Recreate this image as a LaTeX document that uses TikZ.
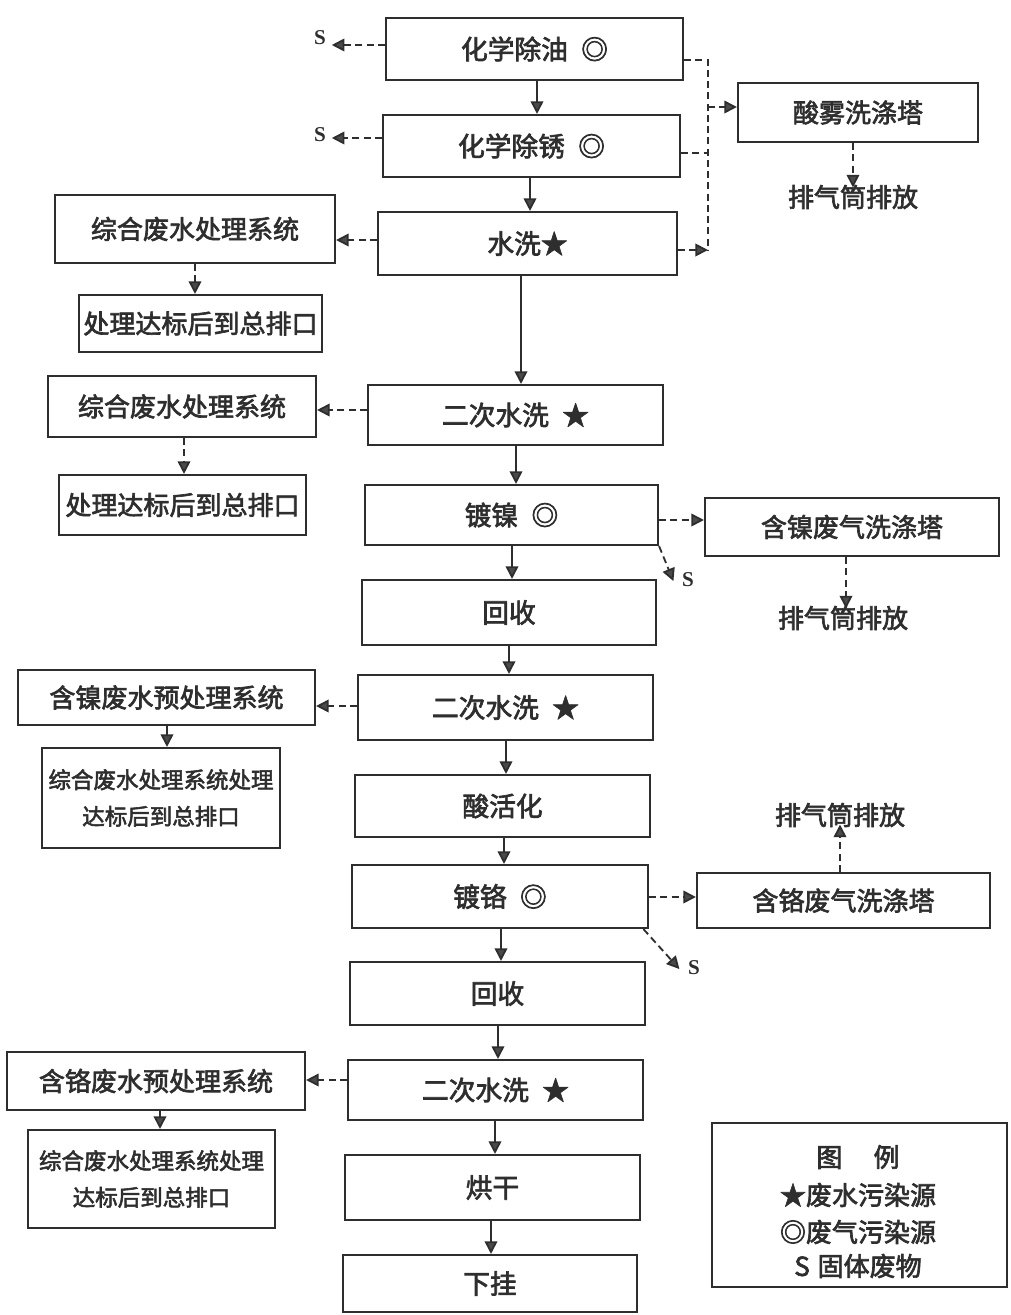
\documentclass[tikz,border=0pt]{standalone}
\usepackage{fontspec}
\setmainfont{Noto Sans CJK SC}[FakeBold=2.5]
\newfontfamily\serifS{Liberation Serif}
\usetikzlibrary{arrows.meta}
\definecolor{ink}{HTML}{2E2E2E}
\definecolor{tipc}{HTML}{4A4A4A}
\newcommand\BX[7]{\node[#1, minimum width={(#5-#3)*0.025cm}, minimum height={(#6-#4)*0.025cm}] (#2) at ({(#3+#5)/2},{(#4+#6)/2}) {#7};}
\begin{document}
\begin{tikzpicture}[x=0.025cm,y=-0.025cm,
  bx/.style={draw=ink, line width=1.5pt, inner sep=0pt, text=ink, font=\fontsize{19}{22}\selectfont},
  lbx/.style={bx, font=\fontsize{18.5}{22}\selectfont},
  tbx/.style={bx, align=center, font=\fontsize{16}{26}\selectfont},
  lbl/.style={text=ink, font=\fontsize{18.5}{22}\selectfont, inner sep=0pt},
  slbl/.style={text=ink, font=\serifS\bfseries\fontsize{15}{17}\selectfont, inner sep=0pt},
  ar/.style={draw=ink, line width=1.3pt, -{Triangle[length=9pt,width=9pt,fill=tipc]}},
  dar/.style={ar, dash pattern=on 5pt off 3pt},
  dl/.style={draw=ink, line width=1.3pt, dash pattern=on 5pt off 3pt}
]
\useasboundingbox (0,0) rectangle (1011,1315);
% main column
\BX{bx}{n1}{386}{18}{683}{80}{化学除油\hspace{0.5em}◎}
\BX{bx}{n2}{383}{115}{680}{177}{化学除锈\hspace{0.5em}◎}
\BX{bx}{n3}{378}{212}{677}{275}{水洗★}
\BX{bx}{n4}{368}{385}{663}{445}{二次水洗\hspace{0.5em}★}
\BX{bx}{n5}{365}{485}{658}{545}{镀镍\hspace{0.5em}◎}
\BX{bx}{n6}{362}{580}{656}{645}{回收}
\BX{bx}{n7}{358}{675}{653}{740}{二次水洗\hspace{0.5em}★}
\BX{bx}{n8}{355}{775}{650}{837}{酸活化}
\BX{bx}{n9}{352}{865}{648}{928}{镀铬\hspace{0.5em}◎}
\BX{bx}{n10}{350}{962}{645}{1025}{回收}
\BX{bx}{n11}{348}{1060}{643}{1120}{二次水洗\hspace{0.5em}★}
\BX{bx}{n12}{345}{1155}{640}{1220}{烘干}
\BX{bx}{n13}{343}{1255}{637}{1312}{下挂}
% left column
\BX{lbx}{l1}{55}{195}{335}{263}{综合废水处理系统}
\BX{lbx}{l2}{79}{295}{322}{352}{处理达标后到总排口}
\BX{lbx}{l3}{48}{376}{316}{437}{综合废水处理系统}
\BX{lbx}{l4}{59}{475}{306}{535}{处理达标后到总排口}
\BX{lbx}{l5}{18}{670}{315}{725}{含镍废水预处理系统}
\BX{tbx}{l6}{42}{748}{280}{848}{综合废水处理系统处理\\达标后到总排口}
\BX{lbx}{l7}{7}{1052}{305}{1110}{含铬废水预处理系统}
\BX{tbx}{l8}{28}{1130}{275}{1228}{综合废水处理系统处理\\达标后到总排口}
% right column
\BX{lbx}{t1}{738}{83}{978}{142}{酸雾洗涤塔}
\node[lbl] (e1) at (853,197) {排气筒排放};
\BX{lbx}{t2}{705}{498}{999}{556}{含镍废气洗涤塔}
\node[lbl] (e2) at (843,618) {排气筒排放};
\node[lbl] (e3) at (840,815) {排气筒排放};
\BX{lbx}{t3}{697}{873}{990}{928}{含铬废气洗涤塔}
% S labels
\node[slbl] (s1) at (320,38) {S};
\node[slbl] (s2) at (320,135) {S};
\node[slbl] (s3) at (688,580) {S};
\node[slbl] (s4) at (694,968) {S};
% legend
\BX{bx}{lg}{712}{1123}{1007}{1287}{}
\node[lbl] (lg1) at (858,1157) {图\hspace{1.2em}例};
\node[lbl] (lg2) at (858,1195) {★废水污染源};
\node[lbl] (lg3) at (858,1232) {◎废气污染源};
\node[lbl] (lg4) at (858,1266) {S\hspace{0.3em}固体废物};
% main flow arrows
\draw[ar] (n1.south -| 537,0) -- (n2.north -| 537,0);
\draw[ar] (n2.south -| 530,0) -- (n3.north -| 530,0);
\draw[ar] (n3.south -| 521,0) -- (n4.north -| 521,0);
\draw[ar] (n4.south -| 516,0) -- (n5.north -| 516,0);
\draw[ar] (n5.south -| 512,0) -- (n6.north -| 512,0);
\draw[ar] (n6.south -| 509,0) -- (n7.north -| 509,0);
\draw[ar] (n7.south -| 506,0) -- (n8.north -| 506,0);
\draw[ar] (n8.south -| 504,0) -- (n9.north -| 504,0);
\draw[ar] (n9.south -| 501,0) -- (n10.north -| 501,0);
\draw[ar] (n10.south -| 498,0) -- (n11.north -| 498,0);
\draw[ar] (n11.south -| 495,0) -- (n12.north -| 495,0);
\draw[ar] (n12.south -| 491,0) -- (n13.north -| 491,0);
% S outputs
\draw[dar] (n1.west |- 0,45) -- ([xshift=4]s1.east |- 0,45);
\draw[dar] (n2.west |- 0,138) -- ([xshift=4]s2.east |- 0,138);
\draw[dar] (n5.south east) -- ([xshift=-6,yshift=-6]s3.north west);
\draw[dar] ([xshift=-4]n9.south east) -- ([xshift=-6,yshift=-6]s4.north west);
% acid mist bus
\coordinate (b1) at (708,60);
\coordinate (b2) at (708,250);
\draw[dl] (n1.east |- b1) -- (b1) -- (b2);
\draw[dl] (n2.east |- 0,153) -- (708,153);
\draw[dar] (n3.east |- b2) -- (b2);
\draw[dar] (708,107) -- (t1.west |- 0,107);
\draw[dar] (t1.south -| 853,0) -- ([yshift=-2]e1.north -| 853,0);
% wastewater to left
\draw[dar] (n3.west |- 0,240) -- (l1.east |- 0,240);
\draw[dar] (l1.south -| 195,0) -- (l2.north -| 195,0);
\draw[dar] (n4.west |- 0,410) -- (l3.east |- 0,410);
\draw[dar] (l3.south -| 184,0) -- (l4.north -| 184,0);
\draw[dar] (n7.west |- 0,706) -- (l5.east |- 0,706);
\draw[ar] (l5.south -| 167,0) -- (l6.north -| 167,0);
\draw[dar] (n11.west |- 0,1080) -- (l7.east |- 0,1080);
\draw[ar] (l7.south -| 160,0) -- (l8.north -| 160,0);
% exhaust to right
\draw[dar] (n5.east |- 0,520) -- (t2.west |- 0,520);
\draw[dar] (t2.south -| 846,0) -- ([yshift=-2]e2.north -| 846,0);
\draw[dar] (n9.east |- 0,897) -- (t3.west |- 0,897);
\draw[dar] (t3.north -| 840,0) -- ([yshift=2]e3.south -| 840,0);
\end{tikzpicture}
\end{document}
